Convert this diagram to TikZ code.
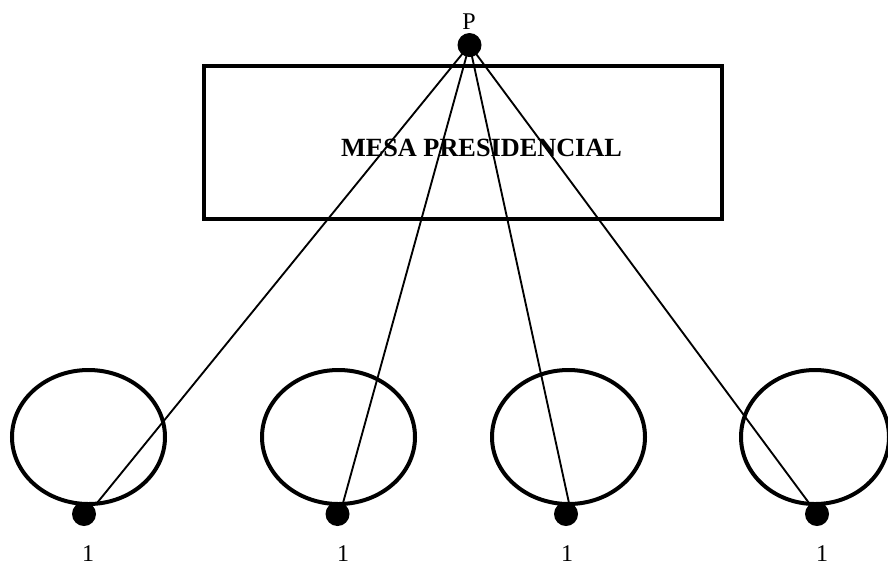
\documentclass[tikz,border=0pt]{standalone}
\usepackage{fontspec}
\setmainfont{Liberation Serif}
\usetikzlibrary{shapes.geometric}
\begin{document}
\begin{tikzpicture}[x=0.75pt,y=-0.75pt,
  seat/.style={draw,ellipse,line width=3pt,inner sep=0pt,minimum width=114.75pt,minimum height=100.5pt},
  blob/.style={circle,fill=black,inner sep=0pt,minimum size=18pt},
  tablebox/.style={draw,rectangle,line width=3pt,inner sep=0pt,minimum width=388.5pt,minimum height=114.75pt},
  link/.style={line width=1.4pt},
  lbl/.style={inner sep=0pt,anchor=base,font=\fontsize{18}{20}\selectfont}]
\useasboundingbox (0,0) rectangle (888,562);
\node[tablebox] (mesa) at (463,142) {};
\node[inner sep=0pt,anchor=base,font=\fontsize{19.7}{22}\selectfont\bfseries] (mtext) at (481.5,156) {MESA PRESIDENCIAL};
\node[seat] (s1) at (88.5,437) {};
\node[seat] (s2) at (338.5,437) {};
\node[seat] (s3) at (568.5,437) {};
\node[seat,minimum width=111pt] (s4) at (815,437) {};
\coordinate (e1) at (97,503);
\coordinate (e2) at (343,503);
\coordinate (e3) at (569,503);
\coordinate (e4) at (809,503);
\coordinate (pc) at (469.5,45);
\draw[link] (pc) -- (e1);
\draw[link] (pc) -- (e2);
\draw[link] (pc) -- (e3);
\draw[link] (pc) -- (e4);
\node[blob] (p) at (pc) {};
\node[blob] (d1) at (84,514) {};
\node[blob] (d2) at (337.5,514) {};
\node[blob] (d3) at (566,514) {};
\node[blob] (d4) at (817,514) {};
\node[lbl] (pl) at (469,29) {P};
\node[lbl] (l1) at (88,561) {1};
\node[lbl] (l2) at (343,561) {1};
\node[lbl] (l3) at (567,561) {1};
\node[lbl] (l4) at (822,561) {1};
\end{tikzpicture}
\end{document}
